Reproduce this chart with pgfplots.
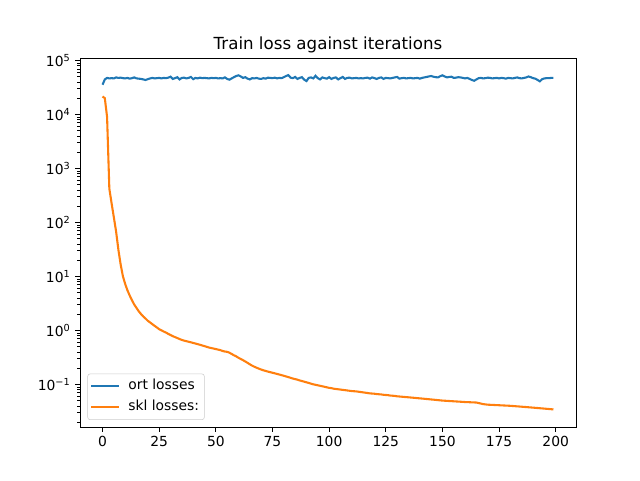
\documentclass[border=0pt]{standalone}
\usepackage{pgfplots}
\pgfplotsset{compat=1.18}
\usepackage{fontspec}
\setmainfont{DejaVu Sans}
\definecolor{mplblue}{HTML}{1F77B4}
\definecolor{mplorange}{HTML}{FF7F0E}
\pgfplotstableread{
x y
0 35500
1 44500
2 47500
3 46500
4 47000
5 46500
6 48500
7 47500
8 48000
9 47000
10 46500
11 47500
12 46000
13 47000
14 48500
15 46500
16 46000
17 45500
18 44500
19 43500
20 45000
21 46500
22 47500
23 46500
24 47000
25 47500
26 46500
27 47500
28 47000
29 48000
30 50000
31 45500
32 47000
33 49000
34 44500
35 47500
36 48000
37 46500
38 47500
39 49500
40 45000
41 47500
42 46500
43 48000
44 47000
45 47500
46 47000
47 46500
48 47500
49 47000
50 47500
51 46500
52 47000
53 46500
54 48500
55 45500
56 44000
57 46500
58 49000
59 51500
60 53000
61 50500
62 47500
63 49000
64 46000
65 44500
66 47000
67 46500
68 47500
69 46000
70 45500
71 47000
72 46000
73 48000
74 47500
75 47000
76 48000
77 46500
78 47500
79 47000
80 49000
81 51500
82 53500
83 48000
84 47000
85 49500
86 45500
87 47500
88 49000
89 44000
90 41500
91 47500
92 48500
93 46500
94 52000
95 47000
96 44500
97 48500
98 47000
99 46000
100 49000
101 45500
102 47500
103 48500
104 44500
105 47000
106 49500
107 45500
108 47500
109 48000
110 46500
111 47000
112 47500
113 46500
114 47000
115 46500
116 47500
117 48000
118 46000
119 48500
120 47000
121 45500
122 47500
123 48500
124 45500
125 47500
126 47000
127 46500
128 47500
129 48500
130 49500
131 46000
132 47000
133 47500
134 46500
135 47000
136 47500
137 46500
138 47000
139 47500
140 46000
141 47500
142 48500
143 49500
144 50500
145 51500
146 50000
147 49000
148 48500
149 51000
150 53000
151 50500
152 48500
153 49500
154 50000
155 47500
156 48000
157 49000
158 48500
159 47500
160 46500
161 47500
162 45500
163 43500
164 42000
165 44500
166 47000
167 47500
168 46500
169 47000
170 48000
171 47500
172 46500
173 47000
174 47500
175 46500
176 47500
177 47000
178 46000
179 47500
180 47000
181 46500
182 47500
183 48500
184 47000
185 46500
186 47500
187 48500
188 50500
189 49000
190 47000
191 46000
192 43500
193 41000
194 45000
195 46500
196 47000
197 47000
198 47500
199 47500
}\ortdata
\pgfplotstableread{
x y
0 21500
1 20000
2 9000
3 420
4 225
5 123
6 67
7 31
8 16.5
9 10
10 7.2
11 5.5
12 4.4
13 3.6
14 3.0
15 2.6
16 2.25
17 2.0
18 1.8
19 1.65
20 1.5
21 1.40
22 1.30
23 1.21
24 1.13
25 1.05
26 1.00
27 0.95
28 0.91
29 0.86
30 0.82
31 0.78
32 0.75
33 0.72
34 0.69
35 0.665
36 0.645
37 0.63
38 0.615
39 0.60
40 0.585
41 0.57
42 0.555
43 0.54
44 0.525
45 0.51
46 0.495
47 0.48
48 0.47
49 0.46
50 0.45
51 0.44
52 0.43
53 0.415
54 0.405
55 0.40
56 0.385
57 0.365
58 0.345
59 0.33
60 0.31
61 0.295
62 0.28
63 0.265
64 0.25
65 0.235
66 0.222
67 0.212
68 0.203
69 0.195
70 0.188
71 0.182
72 0.177
73 0.172
74 0.168
75 0.164
76 0.160
77 0.156
78 0.152
79 0.148
80 0.144
81 0.140
82 0.136
83 0.132
84 0.128
85 0.125
86 0.122
87 0.118
88 0.115
89 0.112
90 0.109
91 0.106
92 0.103
93 0.100
94 0.098
95 0.096
96 0.094
97 0.092
98 0.090
99 0.088
100 0.086
101 0.085
102 0.083
103 0.082
104 0.081
105 0.080
106 0.079
107 0.078
108 0.077
109 0.076
110 0.075
111 0.0745
112 0.074
113 0.073
114 0.072
115 0.071
116 0.070
117 0.069
118 0.068
119 0.0675
120 0.067
121 0.066
122 0.0655
123 0.065
124 0.064
125 0.0635
126 0.063
127 0.062
128 0.0615
129 0.061
130 0.060
131 0.0595
132 0.059
133 0.0585
134 0.058
135 0.0575
136 0.057
137 0.0565
138 0.056
139 0.0555
140 0.055
141 0.0545
142 0.054
143 0.0535
144 0.053
145 0.0525
146 0.052
147 0.0515
148 0.051
149 0.0505
150 0.050
151 0.0497
152 0.0494
153 0.0491
154 0.0488
155 0.0485
156 0.0482
157 0.0479
158 0.0476
159 0.0473
160 0.047
161 0.0468
162 0.0466
163 0.0464
164 0.0462
165 0.046
166 0.045
167 0.044
168 0.043
169 0.0425
170 0.042
171 0.0418
172 0.0416
173 0.0414
174 0.0412
175 0.041
176 0.0408
177 0.0406
178 0.0404
179 0.0402
180 0.040
181 0.0397
182 0.0394
183 0.0391
184 0.0388
185 0.0385
186 0.0382
187 0.0379
188 0.0376
189 0.0373
190 0.037
191 0.0367
192 0.0364
193 0.0361
194 0.0358
195 0.0355
196 0.0352
197 0.0349
198 0.0346
199 0.0343
}\skldata
\begin{document}
\begin{tikzpicture}
\path[use as bounding box] (-60pt,-39.75pt) rectangle (420pt,320.25pt);
\begin{semilogyaxis}[
  at={(0pt,0pt)}, anchor=south west,
  scale only axis,
  width=372pt, height=276.75pt,
  xmin=-9.95, xmax=208.95,
  ymin=0.0162, ymax=111000,
  axis line style={line width=0.6pt},
  tick align=outside,
  xtick pos=left, ytick pos=left,
  major tick length=3.65pt,
  minor tick length=2.1pt,
  every tick/.style={black, line width=0.6pt},
  minor tick style={line width=0.45pt},
  xtick={0,25,50,75,100,125,150,175,200},
  ytick={0.1,1,10,100,1000,10000,100000},
  yticklabels={10\textsuperscript{−1},10\textsuperscript{0},10\textsuperscript{1},10\textsuperscript{2},10\textsuperscript{3},10\textsuperscript{4},10\textsuperscript{5}},
  minor ytick={0.02,0.03,0.04,0.05,0.06,0.07,0.08,0.09,0.2,0.3,0.4,0.5,0.6,0.7,0.8,0.9,2,3,4,5,6,7,8,9,20,30,40,50,60,70,80,90,200,300,400,500,600,700,800,900,2000,3000,4000,5000,6000,7000,8000,9000,20000,30000,40000,50000,60000,70000,80000,90000},
  /pgf/number format/assume math mode=true,
  xticklabel style={font=\fontsize{10.4}{12}\selectfont},
  yticklabel style={font=\fontsize{10.4}{12}\selectfont},
  title={Train loss against iterations},
  title style={font=\fontsize{12.5}{15}\selectfont, at={(0.5,1)}, anchor=base, yshift=0.2pt},
  legend cell align=left,
  legend style={at={(0.0148,0.019)}, anchor=south west, draw=black!20, rounded corners=2pt,
    fill=white, fill opacity=0.8, text opacity=1, font=\fontsize{10.4}{12}\selectfont,
    row sep=0pt, column sep=4pt, inner xsep=2pt, inner ysep=1.5pt,
    nodes={inner xsep=2pt, inner ysep=2.95pt, text height=7.6pt, text depth=2.2pt}},
  legend image code/.code={\draw[#1] (0pt,0pt) -- (21pt,0pt);},
]
\addplot[mplblue, line width=1.56pt] table[x=x,y=y] {\ortdata};
\addlegendentry{ort losses}
\addplot[mplorange, line width=1.56pt] table[x=x,y=y] {\skldata};
\addlegendentry{skl losses:}
\end{semilogyaxis}
\end{tikzpicture}
\end{document}
